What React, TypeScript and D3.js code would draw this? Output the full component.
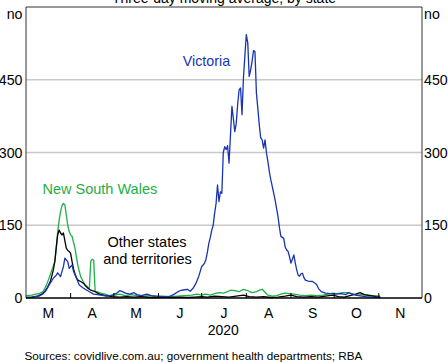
import React from "react";
import * as d3 from "d3";

// ---------- DATA ----------
const monthLabels = ["M", "A", "M", "J", "J", "A", "S", "O", "N"];
const yTicks = [0, 150, 300, 450];
const yearLabel = "2020";
const title = "Three-day moving average, by state";
const source = "Sources: covidlive.com.au; government health departments; RBA";

const victoria: [string, number][] = [
  ["2020-03-01", 1], ["2020-03-05", 2], ["2020-03-10", 4], ["2020-03-13", 9], ["2020-03-15", 16],
  ["2020-03-17", 27], ["2020-03-19", 36], ["2020-03-20", 41], ["2020-03-22", 47], ["2020-03-23", 52],
  ["2020-03-25", 44], ["2020-03-26", 55], ["2020-03-27", 65], ["2020-03-28", 82], ["2020-03-30", 75],
  ["2020-03-31", 61], ["2020-04-02", 68], ["2020-04-03", 55], ["2020-04-05", 41], ["2020-04-07", 27],
  ["2020-04-10", 20], ["2020-04-14", 13], ["2020-04-17", 8], ["2020-04-22", 6], ["2020-04-26", 4],
  ["2020-04-30", 6], ["2020-05-03", 10], ["2020-05-05", 15], ["2020-05-07", 13], ["2020-05-09", 10],
  ["2020-05-12", 8], ["2020-05-15", 11], ["2020-05-17", 7], ["2020-05-20", 5], ["2020-05-24", 8],
  ["2020-05-27", 5], ["2020-05-31", 4], ["2020-06-04", 3], ["2020-06-07", 2], ["2020-06-10", 5],
  ["2020-06-12", 8], ["2020-06-14", 12], ["2020-06-16", 15], ["2020-06-19", 17], ["2020-06-21", 18],
  ["2020-06-23", 14], ["2020-06-25", 20], ["2020-06-27", 30], ["2020-06-29", 45], ["2020-07-01", 65],
  ["2020-07-02", 68], ["2020-07-03", 72], ["2020-07-04", 80], ["2020-07-05", 95], ["2020-07-06", 113],
  ["2020-07-07", 125], ["2020-07-08", 140], ["2020-07-09", 150], ["2020-07-10", 175], ["2020-07-11", 195],
  ["2020-07-12", 233], ["2020-07-13", 199], ["2020-07-14", 219], ["2020-07-15", 216], ["2020-07-16", 300],
  ["2020-07-17", 312], ["2020-07-18", 306], ["2020-07-19", 314], ["2020-07-20", 278], ["2020-07-21", 336],
  ["2020-07-22", 395], ["2020-07-23", 370], ["2020-07-24", 343], ["2020-07-25", 360], ["2020-07-26", 400],
  ["2020-07-27", 429], ["2020-07-28", 433], ["2020-07-29", 378], ["2020-07-30", 453], ["2020-07-31", 500],
  ["2020-08-01", 543], ["2020-08-02", 526], ["2020-08-03", 457], ["2020-08-04", 470], ["2020-08-05", 488],
  ["2020-08-06", 510], ["2020-08-07", 508], ["2020-08-08", 423], ["2020-08-09", 391], ["2020-08-10", 357],
  ["2020-08-11", 330], ["2020-08-12", 326], ["2020-08-13", 309], ["2020-08-14", 326], ["2020-08-15", 299],
  ["2020-08-16", 281], ["2020-08-17", 260], ["2020-08-18", 244], ["2020-08-19", 230], ["2020-08-20", 216],
  ["2020-08-21", 202], ["2020-08-22", 185], ["2020-08-23", 168], ["2020-08-24", 145], ["2020-08-25", 127],
  ["2020-08-26", 125], ["2020-08-27", 123], ["2020-08-28", 105], ["2020-08-29", 99], ["2020-08-30", 96],
  ["2020-08-31", 85], ["2020-09-01", 72], ["2020-09-02", 80], ["2020-09-03", 89], ["2020-09-04", 72],
  ["2020-09-05", 58], ["2020-09-06", 47], ["2020-09-07", 45], ["2020-09-08", 50], ["2020-09-09", 51],
  ["2020-09-10", 42], ["2020-09-11", 37], ["2020-09-13", 35], ["2020-09-16", 34], ["2020-09-18", 30],
  ["2020-09-19", 27], ["2020-09-20", 20], ["2020-09-22", 13], ["2020-09-25", 10], ["2020-09-28", 9],
  ["2020-10-02", 8], ["2020-10-06", 9], ["2020-10-09", 7], ["2020-10-11", 11], ["2020-10-14", 8],
  ["2020-10-16", 6], ["2020-10-20", 4], ["2020-10-23", 3], ["2020-10-28", 2], ["2020-11-02", 1],
];

const nsw: [string, number][] = [
  ["2020-03-01", 5], ["2020-03-05", 6], ["2020-03-08", 8], ["2020-03-11", 10], ["2020-03-13", 14],
  ["2020-03-15", 25], ["2020-03-17", 41], ["2020-03-19", 58], ["2020-03-21", 75], ["2020-03-22", 100],
  ["2020-03-23", 137], ["2020-03-24", 160], ["2020-03-25", 178], ["2020-03-26", 190], ["2020-03-27", 195],
  ["2020-03-28", 192], ["2020-03-29", 171], ["2020-03-30", 150], ["2020-03-31", 137], ["2020-04-01", 130],
  ["2020-04-02", 127], ["2020-04-03", 115], ["2020-04-04", 103], ["2020-04-05", 85], ["2020-04-06", 68],
  ["2020-04-07", 55], ["2020-04-08", 44], ["2020-04-09", 38], ["2020-04-10", 32], ["2020-04-11", 28],
  ["2020-04-13", 22], ["2020-04-14", 20], ["2020-04-15", 76], ["2020-04-16", 80], ["2020-04-17", 78],
  ["2020-04-18", 14], ["2020-04-20", 12], ["2020-04-22", 10], ["2020-04-25", 8], ["2020-04-28", 5],
  ["2020-05-02", 6], ["2020-05-05", 8], ["2020-05-09", 5], ["2020-05-13", 7], ["2020-05-17", 5],
  ["2020-05-21", 4], ["2020-05-26", 5], ["2020-05-30", 3], ["2020-06-04", 4], ["2020-06-09", 3],
  ["2020-06-14", 4], ["2020-06-19", 5], ["2020-06-24", 6], ["2020-06-28", 8], ["2020-07-01", 6],
  ["2020-07-04", 8], ["2020-07-07", 6], ["2020-07-10", 9], ["2020-07-13", 11], ["2020-07-16", 10],
  ["2020-07-19", 13], ["2020-07-21", 16], ["2020-07-24", 15], ["2020-07-27", 13], ["2020-07-30", 18],
  ["2020-08-02", 15], ["2020-08-05", 11], ["2020-08-08", 13], ["2020-08-10", 16], ["2020-08-12", 18],
  ["2020-08-14", 12], ["2020-08-16", 6], ["2020-08-19", 4], ["2020-08-22", 5], ["2020-08-25", 8],
  ["2020-08-28", 10], ["2020-08-31", 9], ["2020-09-03", 8], ["2020-09-07", 6], ["2020-09-11", 5],
  ["2020-09-15", 6], ["2020-09-19", 5], ["2020-09-23", 6], ["2020-09-27", 8], ["2020-09-30", 10],
  ["2020-10-03", 9], ["2020-10-07", 11], ["2020-10-10", 11], ["2020-10-14", 8], ["2020-10-17", 6],
  ["2020-10-20", 7], ["2020-10-24", 6], ["2020-10-28", 5], ["2020-11-02", 4],
];

const others: [string, number][] = [
  ["2020-03-01", 1], ["2020-03-05", 2], ["2020-03-09", 4], ["2020-03-12", 8], ["2020-03-14", 13],
  ["2020-03-16", 22], ["2020-03-18", 35], ["2020-03-20", 58], ["2020-03-21", 75], ["2020-03-22", 105],
  ["2020-03-23", 130], ["2020-03-24", 140], ["2020-03-25", 134], ["2020-03-26", 130], ["2020-03-27", 134],
  ["2020-03-28", 118], ["2020-03-29", 103], ["2020-03-30", 98], ["2020-03-31", 96], ["2020-04-01", 92],
  ["2020-04-02", 75], ["2020-04-03", 60], ["2020-04-04", 50], ["2020-04-05", 42], ["2020-04-06", 37],
  ["2020-04-08", 34], ["2020-04-10", 30], ["2020-04-11", 26], ["2020-04-13", 20], ["2020-04-15", 16],
  ["2020-04-18", 13], ["2020-04-21", 8], ["2020-04-25", 5], ["2020-04-30", 3], ["2020-05-05", 2],
  ["2020-05-10", 3], ["2020-05-15", 2], ["2020-05-20", 3], ["2020-05-26", 1], ["2020-06-01", 1],
  ["2020-06-06", 2], ["2020-06-11", 1], ["2020-06-16", 2], ["2020-06-21", 1], ["2020-06-26", 2],
  ["2020-07-01", 3], ["2020-07-05", 2], ["2020-07-10", 4], ["2020-07-15", 3], ["2020-07-20", 2],
  ["2020-07-25", 4], ["2020-07-30", 6], ["2020-08-03", 3], ["2020-08-08", 2], ["2020-08-13", 3],
  ["2020-08-18", 1], ["2020-08-23", 2], ["2020-08-28", 4], ["2020-09-01", 6], ["2020-09-05", 3],
  ["2020-09-10", 2], ["2020-09-15", 3], ["2020-09-20", 2], ["2020-09-25", 4], ["2020-09-30", 6],
  ["2020-10-04", 3], ["2020-10-08", 2], ["2020-10-12", 5], ["2020-10-16", 8], ["2020-10-19", 11],
  ["2020-10-22", 7], ["2020-10-26", 5], ["2020-10-30", 3], ["2020-11-02", 2],
];

// ---------- LAYOUT ----------
const W = 448;
const H = 363;
const left = 26;
const right = 422;
const top = 7;
const bottom = 298;
const FONT = "Arial, 'Liberation Sans', Helvetica, sans-serif";
const VIC = "#1a33b3";
const NSW = "#1fae48";
const OTH = "#000000";

export default function App() {
  const parse = d3.timeParse("%Y-%m-%d");
  const x = d3
    .scaleTime()
    .domain([new Date(2020, 2, 1), new Date(2020, 11, 1)])
    .range([left, right]);
  const y = d3.scaleLinear().domain([0, 600]).range([bottom, top]);

  const line = d3
    .line<[string, number]>()
    .x((d) => x(parse(d[0]) as Date))
    .y((d) => y(d[1]));

  const monthStarts = d3.timeMonth.range(new Date(2020, 2, 1), new Date(2020, 11, 1));
  const tickDates = monthStarts.slice(1);

  return (
    <svg
      width={W}
      height={H}
      style={{ position: "absolute", left: 0, top: 0, background: "#fff" }}
      fontFamily={FONT}
    >
      <rect x={0} y={0} width={W} height={H} fill="#fff" />
      <text x={224} y={3} fontSize={14} textAnchor="middle" fill="#000">
        {title}
      </text>

      {/* gridlines */}
      {yTicks
        .filter((t) => t > 0)
        .map((t) => (
          <line key={t} x1={left} x2={right} y1={y(t)} y2={y(t)} stroke="#c8c8c8" strokeWidth={1.5} />
        ))}

      {/* series */}
      <path d={line(nsw) || ""} fill="none" stroke={NSW} strokeWidth={1.3} strokeLinejoin="round" />
      <path d={line(others) || ""} fill="none" stroke={OTH} strokeWidth={1.3} strokeLinejoin="round" />
      <path d={line(victoria) || ""} fill="none" stroke={VIC} strokeWidth={1.3} strokeLinejoin="round" />

      {/* frame */}
      <line x1={left} x2={right} y1={top} y2={top} stroke="#333" strokeWidth={1} />
      <line x1={left} x2={left} y1={top} y2={bottom} stroke="#333" strokeWidth={1} />
      <line x1={right} x2={right} y1={top} y2={bottom} stroke="#333" strokeWidth={1} />
      <line x1={left} x2={right} y1={bottom} y2={bottom} stroke="#000" strokeWidth={1.3} />

      {/* x ticks */}
      {tickDates.map((d, i) => (
        <line key={i} x1={x(d)} x2={x(d)} y1={bottom} y2={bottom - 5} stroke="#000" strokeWidth={1} />
      ))}
      {monthStarts.map((d, i) => {
        const mid = new Date((d.getTime() + d3.timeMonth.offset(d, 1).getTime()) / 2);
        return (
          <text key={i} x={x(mid)} y={318} fontSize={14} textAnchor="middle" fill="#000">
            {monthLabels[i]}
          </text>
        );
      })}
      <text x={x(new Date(2020, 6, 16))} y={335} fontSize={14} textAnchor="middle" fill="#000">
        {yearLabel}
      </text>

      {/* y labels */}
      {yTicks.map((t) => (
        <g key={t}>
          <text x={22.5} y={y(t) + 5} fontSize={14.2} textAnchor="end" fill="#000">
            {t}
          </text>
          <text x={424} y={y(t) + 5} fontSize={14.2} textAnchor="start" fill="#000">
            {t}
          </text>
        </g>
      ))}
      <text x={22.5} y={19} fontSize={14.2} textAnchor="end" fill="#000">
        no
      </text>
      <text x={424} y={19} fontSize={14.2} textAnchor="start" fill="#000">
        no
      </text>

      {/* annotations */}
      <text x={182.7} y={65.5} fontSize={14.3} fill={VIC}>
        Victoria
      </text>
      <text x={42.5} y={194} fontSize={14.5} fill={NSW}>
        New South Wales
      </text>
      <text x={147} y={246.5} fontSize={14.5} textAnchor="middle" fill="#000">
        Other states
      </text>
      <text x={147.5} y={263.5} fontSize={14.5} textAnchor="middle" fill="#000">
        and territories
      </text>

      <text x={24.5} y={360} fontSize={11.7} fill="#000">
        {source}
      </text>
    </svg>
  );
}
